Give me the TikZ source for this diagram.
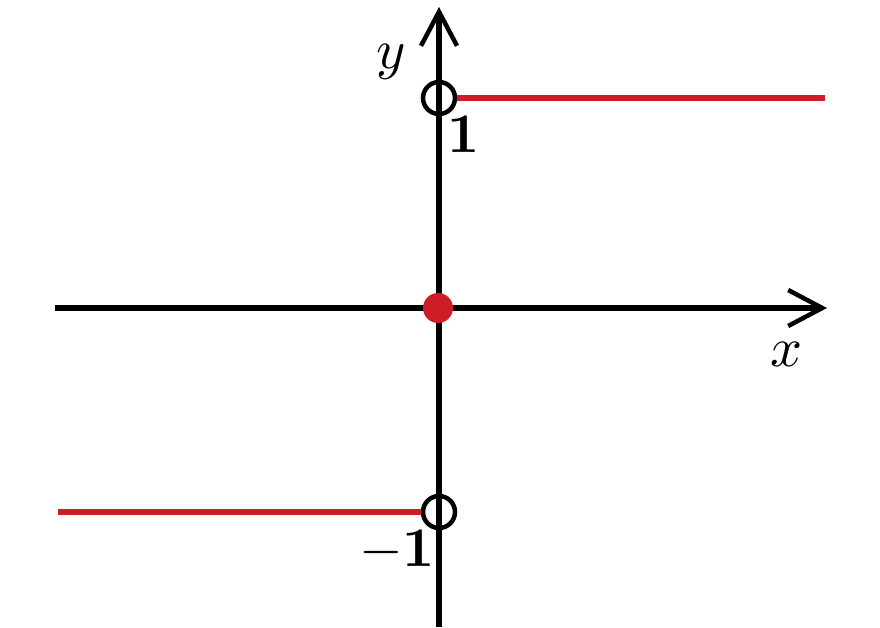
\documentclass[tikz,border=0pt]{standalone}
\usepackage{graphicx}
\usetikzlibrary{arrows.meta}
\definecolor{fred}{RGB}{205,30,40}
\newcommand{\biglbl}[1]{\scalebox{5.6}{#1}}
\begin{document}
\begin{tikzpicture}[x=1pt,y=-1pt,
  axis/.style={line width=5.5pt,-{Straight Barb[length=34pt,width=36pt,line width=4.5pt]}},
  graphline/.style={fred,line width=5.5pt},
  hole/.style={circle,draw=black,line width=4.5pt,fill=none,minimum size=32pt,inner sep=0pt},
  dot/.style={circle,fill=fred,minimum size=30pt,inner sep=0pt},
  lbl/.style={inner sep=0pt}]
\useasboundingbox (0,0) rectangle (880,627);
\coordinate (xs) at (55,308);
\coordinate (xe) at (827,308);
\coordinate (ys) at (439,627);
\coordinate (ye) at (439,7);
\draw[axis] (xs) -- (xe);
\draw[axis] (ys) -- (ye);
\node[hole] (h1) at (439,98) {};
\node[hole] (h2) at (439,512) {};
\coordinate (r1) at (825,98);
\coordinate (l2) at (58,512);
\draw[graphline] (h1.east) -- (r1);
\draw[graphline] (l2) -- (h2.west);
\node[dot] (o) at (438,308) {};
\node[lbl] (ylab) at (391,62) {\biglbl{$y$}};
\node[lbl] (xlab) at (786,354) {\biglbl{$x$}};
\node[lbl] (one) at (464,134) {\biglbl{$\mathbf{1}$}};
\node[lbl] (mone) at (397,551) {\biglbl{$\mathbf{-1}$}};
\end{tikzpicture}
\end{document}
